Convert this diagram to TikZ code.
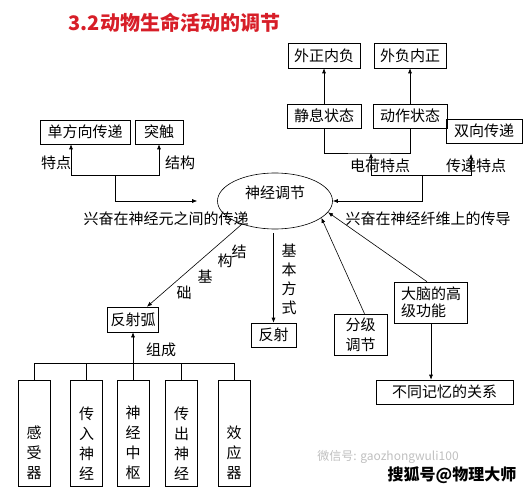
\documentclass[tikz,border=0pt]{standalone}
\usepackage{fontspec}
\setmainfont{Noto Sans CJK SC}
\usetikzlibrary{positioning, arrows.meta, shapes.geometric}
\definecolor{titlered}{RGB}{215,30,40}
\newcommand{\stdarrow}{-{Latex[length=5pt,width=4pt]}}
\newcommand{\stdfont}{\fontsize{15}{19}\selectfont}

\begin{document}
\begin{tikzpicture}[x=1pt, y=-1pt, font=\stdfont, semithick,
    box/.style={draw, inner sep=1pt, minimum height=24pt},
    tallbox/.style={draw, minimum width=32pt, minimum height=106pt, inner sep=0pt},
    lbl/.style={inner sep=0pt}]
    \useasboundingbox (0,0) rectangle (529,497);

    % title
    \node[anchor=west, text=titlered, font=\fontsize{20}{22}\selectfont\bfseries] (title) at (65,23) {3.2动物生命活动的调节};

    % centre
    \node[draw, ellipse, minimum width=115pt, minimum height=56pt, inner sep=0pt] (nerve) at (275,201) {};
    \node[lbl] (nervetext) at (275,193) {神经调节};

    % between neurons
    \node[box, minimum width=90pt] (danxiang) at (85,132) {单方向传递};
    \node[box, minimum width=48pt] (tuchu) at (159,132) {突触};
    \node[lbl] (tedian) at (56,163) {特点};
    \node[lbl] (jiegou) at (180,163) {结构};
    \node[lbl] (between) at (166,219) {兴奋在神经元之间的传递};
    \coordinate (jl) at (115,175);
    \draw[\stdarrow] (jl) -| ([xshift=-14pt]danxiang.south);
    \draw[\stdarrow] (jl) -| (tuchu.south);
    \draw[\stdarrow] (jl) |- ([xshift=-20pt]nerve.west);

    % along the fibre
    \node[box, minimum width=72pt, minimum height=25pt] (waizheng) at (324,55.5) {外正内负};
    \node[box, minimum width=72pt, minimum height=25pt] (waifu) at (410,55.5) {外负内正};
    \node[box, minimum width=74pt] (jingxi) at (324,116) {静息状态};
    \node[box, minimum width=74pt] (dongzuo) at (410,116) {动作状态};
    \node[box, minimum width=76pt] (shuangxiang) at (484,131) {双向传递};
    \draw[\stdarrow] (jingxi) -- (waizheng);
    \draw[\stdarrow] (dongzuo) -- (waifu);
    \coordinate (charge) at (371,153);
    \coordinate (chuandi) at (471,154);
    \draw (jingxi.south) |- (charge) -| (dongzuo.south);
    \node[lbl] (dianhe) at (380,166) {电荷特点};
    \node[lbl] (chuandilbl) at (476,166) {传递特点};
    \node[lbl] (fibre) at (428,219) {兴奋在神经纤维上的传导};
    \coordinate (jr) at (422,175);
    \draw[\stdarrow] (jr) -| (charge);
    \draw[\stdarrow] (jr) -| (chuandi);
    \draw[\stdarrow] (jr) |- (nerve.east);

    % reflex
    \node[box, minimum width=51pt, minimum height=25pt] (fanshehu) at (133,319.5) {反射弧};
    \draw[\stdarrow] (nerve.215) -- ([xshift=14pt]fanshehu.north);
    \node[lbl] (jie) at (239,252) {结};
    \node[lbl] (gou) at (225,261) {构};
    \node[lbl] (ji) at (205,277) {基};
    \node[lbl] (chu) at (184,293) {础};
    \node[box, minimum width=45pt] (fanshe) at (273.5,335) {反射};
    \draw[\stdarrow, shorten <=4pt] (fanshe.north |- nerve.south) -- (fanshe.north);
    \node[lbl, align=center] (fangshi) at (289,279) {基\\本\\方\\式};

    % levels and brain
    \node[box, minimum width=53pt, minimum height=41pt, align=center, font=\fontsize{15}{20}\selectfont] (fenji) at (360.5,334.5) {分级\\调节};
    \draw[\stdarrow] ([xshift=4pt]fenji.north) -- (nerve.-20);
    \node[box, minimum width=73pt, minimum height=41pt, align=left, font=\fontsize{15}{17}\selectfont] (danao) at (431,302.5) {大脑的高\\级功能};
    \draw[\stdarrow] ([xshift=-4pt]danao.north) -- (nerve.-12);
    \node[box, minimum width=137pt] (butong) at (444.5,392) {不同记忆的关系};
    \draw[\stdarrow] (danao.south) -- (danao.south |- butong.north);

    % parts of the reflex arc
    \foreach \n/\x/\t in {ganshou/34/感\\受\\器, chuanru/86.5/传\\入\\神\\经, zhongshu/133/神\\经\\中\\枢, chuanchu/181.5/传\\出\\神\\经, xiaoying/234/效\\应\\器} {
        \node[tallbox] (\n) at (\x,433) {};
        \node[lbl, align=center, anchor=south, font=\fontsize{15}{20}\selectfont] (\n-t) at ([yshift=6pt]\n.south) {\t};
    }
    \coordinate (bus) at ([yshift=-31pt]fanshehu.south);
    \foreach \n in {ganshou,chuanru,zhongshu,chuanchu,xiaoying}
        \draw (\n.north) |- (bus);
    \draw[\stdarrow] (bus) -- (fanshehu.south);
    \node[lbl] (zucheng) at (161,350) {组成};

    % marks
    \node[lbl, text=black!25, font=\fontsize{12}{12}\selectfont] (wechat) at (388,457) {微信号: gaozhongwuli100};
    \node[lbl, font=\fontsize{16}{16}\selectfont\bfseries] (sohu) at (452,475) {搜狐号@物理大师};
\end{tikzpicture}
\end{document}
